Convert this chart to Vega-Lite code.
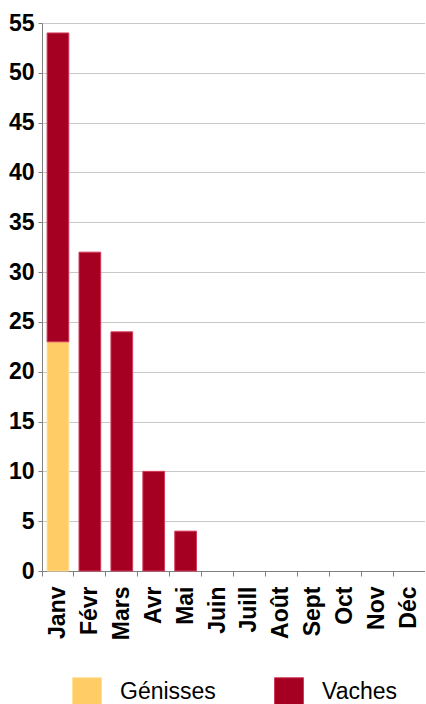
{
  "$schema": "https://vega.github.io/schema/vega-lite/v6.json",
  "width": 383,
  "height": 548,
  "padding": {"left": 8, "top": 12, "right": 0, "bottom": 0},
  "background": "white",
  "data": {
    "values": [
      {"mois": "Janv", "type": "Génisses", "n": 23},
      {"mois": "Janv", "type": "Vaches", "n": 31},
      {"mois": "Févr", "type": "Vaches", "n": 32},
      {"mois": "Mars", "type": "Vaches", "n": 24},
      {"mois": "Avr", "type": "Vaches", "n": 10},
      {"mois": "Mai", "type": "Vaches", "n": 4},
      {"mois": "Juin", "type": "Vaches", "n": 0},
      {"mois": "Juill", "type": "Vaches", "n": 0},
      {"mois": "Août", "type": "Vaches", "n": 0},
      {"mois": "Sept", "type": "Vaches", "n": 0},
      {"mois": "Oct", "type": "Vaches", "n": 0},
      {"mois": "Nov", "type": "Vaches", "n": 0},
      {"mois": "Déc", "type": "Vaches", "n": 0}
    ]
  },
  "mark": {"type": "bar", "strokeWidth": 1},
  "encoding": {
    "x": {
      "field": "mois",
      "type": "nominal",
      "sort": ["Janv","Févr","Mars","Avr","Mai","Juin","Juill","Août","Sept","Oct","Nov","Déc"],
      "scale": {"paddingInner": 0.32, "paddingOuter": 0.16},
      "axis": {
        "title": null,
        "labelAngle": -90,
        "labelFont": "Liberation Sans",
        "labelFontSize": 23,
        "labelFontWeight": "bold",
        "labelColor": "black",
        "labelPadding": 10,
        "tickSize": 5,
        "tickColor": "#808080",
        "domainColor": "#808080",
        "bandPosition": -0.235
      }
    },
    "y": {
      "field": "n",
      "type": "quantitative",
      "stack": "zero",
      "scale": {"domain": [0, 55], "nice": false},
      "axis": {
        "title": null,
        "values": [0,5,10,15,20,25,30,35,40,45,50,55],
        "labelFont": "Liberation Sans",
        "labelFontSize": 23,
        "labelFontWeight": "bold",
        "labelColor": "black",
        "labelPadding": 4,
        "tickSize": 4,
        "tickColor": "#808080",
        "domainColor": "#808080",
        "gridColor": "#c8c8c8",
        "gridWidth": 1
      }
    },
    "order": {"field": "type", "type": "nominal", "sort": "ascending"},
    "color": {
      "field": "type",
      "type": "nominal",
      "scale": {"domain": ["Génisses", "Vaches"], "range": ["#ffcc66", "#a50021"]},
      "legend": {
        "title": null,
        "orient": "none",
        "legendX": 30,
        "legendY": 654,
        "direction": "horizontal",
        "symbolType": "square",
        "symbolSize": 841,
        "symbolStrokeColor": "black",
        "symbolStrokeWidth": 1,
        "symbolOpacity": 1,
        "labelFont": "Liberation Sans",
        "labelFontSize": 23,
        "labelColor": "black",
        "labelOffset": 18,
        "columnPadding": 56
      }
    },
    "stroke": {
      "field": "type",
      "type": "nominal",
      "scale": {"domain": ["Génisses", "Vaches"], "range": ["#ffe099", "#d23a5a"]},
      "legend": null
    },
    "strokeOpacity": {
      "condition": {"test": "datum.n > 0", "value": 1},
      "value": 0
    }
  },
  "config": {
    "view": {"stroke": null},
    "font": "Liberation Sans"
  }
}
